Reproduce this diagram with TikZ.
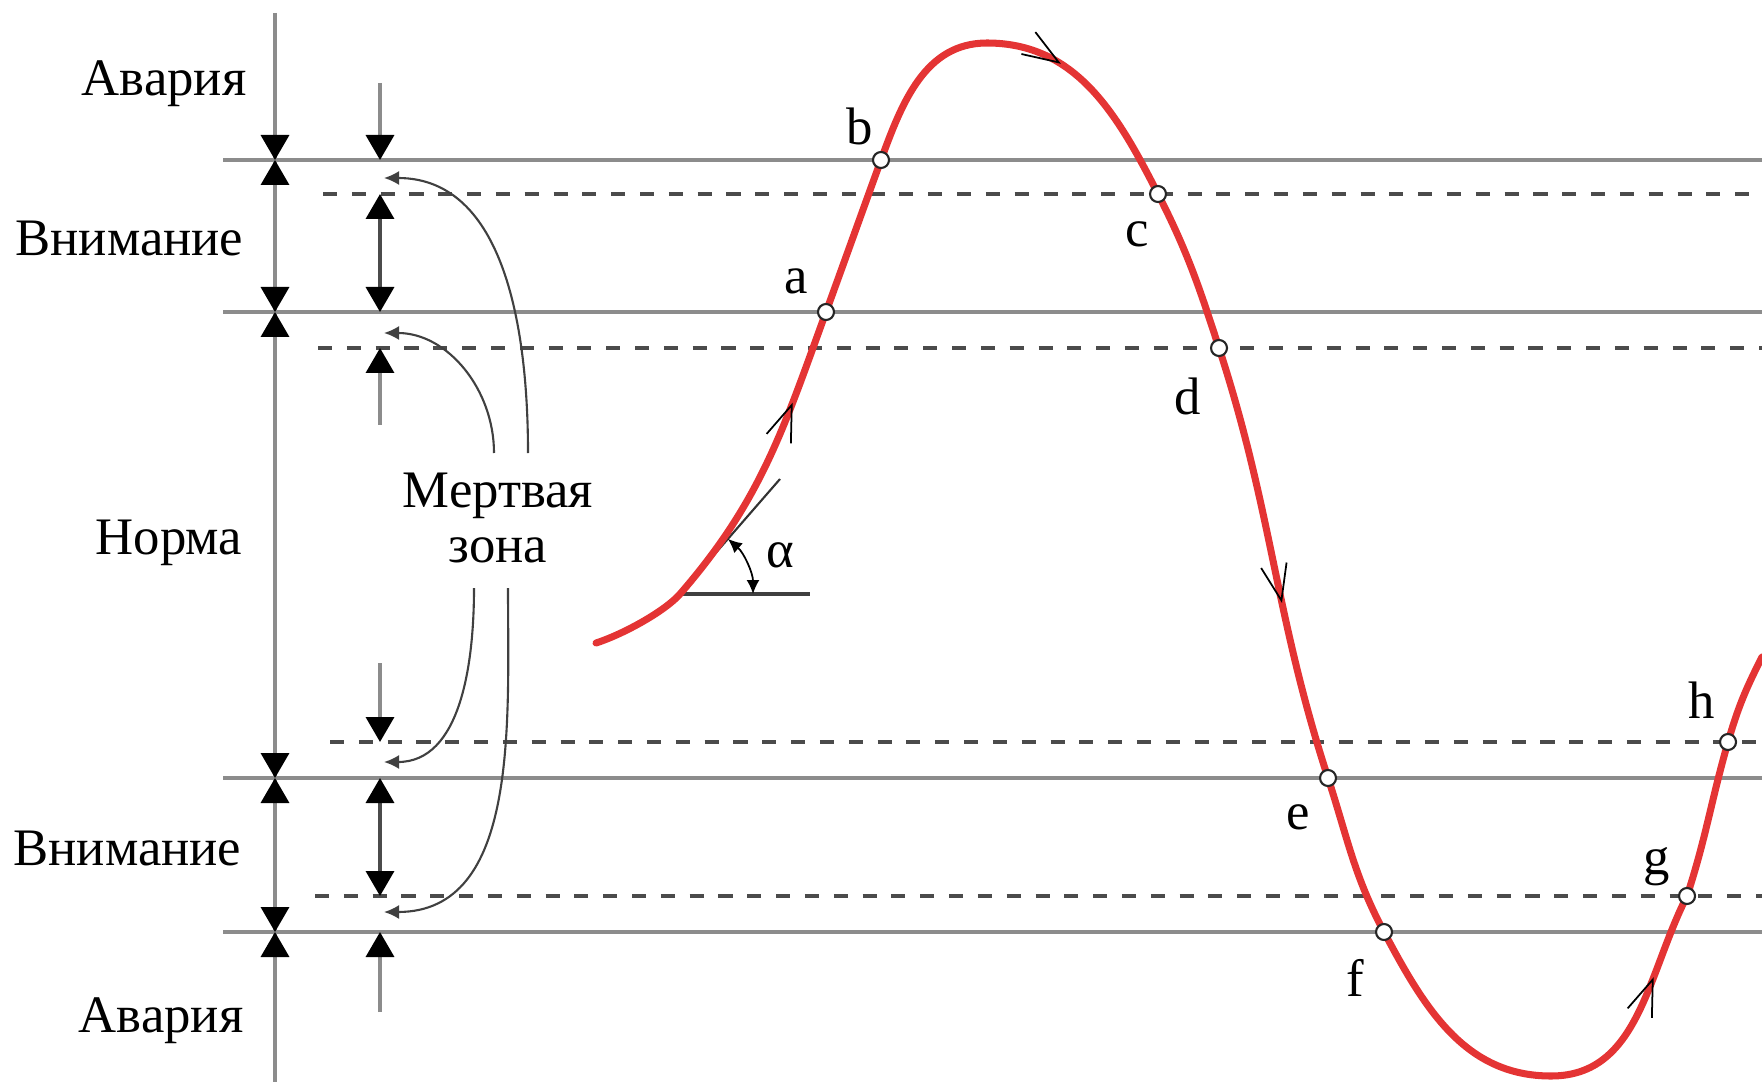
\documentclass[tikz,border=0pt]{standalone}
\usepackage{fontspec}
\setmainfont{Liberation Serif}
\usetikzlibrary{arrows.meta,calc,decorations.markings}
\definecolor{SignalRed}{RGB}{228,52,52}
\definecolor{LevelGray}{RGB}{140,140,140}
\definecolor{BandGray}{RGB}{75,75,75}

\begin{document}
\begin{tikzpicture}[x=1cm,y=1cm,>=Latex,font=\fontsize{15}{18}\selectfont,
  level/.style={LevelGray,line width=1pt},
  band/.style={BandGray,line width=0.9pt,dash pattern=on 4pt off 4.2pt},
  axis/.style={LevelGray,line width=1pt},
  dimtip/.style={-{Triangle[length=2.5mm,width=2.8mm,color=black]}},
  dimboth/.style={BandGray,line width=1pt,{Triangle[length=2.5mm,width=2.8mm,color=black]}-{Triangle[length=2.5mm,width=2.8mm,color=black]}},
  dzarrow/.style={black!75,line width=0.6pt,-{Latex[length=1.5mm,width=1.4mm]}},
  flow/.style={black,line width=0.5pt},
  signal/.style={SignalRed,line width=2pt,line cap=round,
    decoration={markings,
      mark=at position 0.129 with {\arrow[flow]{Straight Barb[length=3.6mm,width=2.6mm,line width=0.5pt,color=black]}},
      mark=at position 0.332 with {\arrow[flow]{Straight Barb[length=3.6mm,width=2.6mm,line width=0.5pt,color=black]}},
      mark=at position 0.570 with {\arrow[flow]{Straight Barb[length=3.6mm,width=2.6mm,line width=0.5pt,color=black]}},
      mark=at position 0.864 with {\arrow[flow]{Straight Barb[length=3.6mm,width=2.6mm,line width=0.5pt,color=black]}}}},
  pt/.style={circle,draw=black!85,fill=white,line width=0.6pt,inner sep=0pt,minimum size=1.6mm},
  zone/.style={anchor=base east,inner sep=0pt},
  ptlabel/.style={inner sep=0pt}]
  \useasboundingbox (0,0) rectangle (17.62,10.82);

  \foreach \lv in {9.22,7.70,3.04,1.50}
    \draw[level] (2.23,\lv)--(17.62,\lv);
  \draw[band] (3.23,8.88)--(17.62,8.88) (3.18,7.34)--(17.62,7.34)
    (3.30,3.40)--(17.62,3.40) (3.15,1.86)--(17.62,1.86);

  \draw[axis] (2.75,10.69)--(2.75,0);
  \foreach \lv in {9.22,7.70,3.04,1.50}{
    \draw[axis,dimtip] (2.75,\lv+0.36)--(2.75,\lv);
    \draw[axis,dimtip] (2.75,\lv-0.36)--(2.75,\lv);
  }
  \draw[axis,dimtip] (3.80,9.99)--(3.80,9.22);
  \draw[dimboth] (3.80,8.88)--(3.80,7.70);
  \draw[axis,dimtip] (3.80,6.57)--(3.80,7.34);
  \draw[axis,dimtip] (3.80,4.19)--(3.80,3.40);
  \draw[dimboth] (3.80,3.04)--(3.80,1.86);
  \draw[axis,dimtip] (3.80,0.70)--(3.80,1.50);

  \node[zone] (alarmT) at (2.47,9.86) {Авария};
  \node[zone] (warnT) at (2.44,8.26) {Внимание};
  \node[zone] (normal) at (2.43,5.28) {Норма};
  \node[zone] (warnB) at (2.42,2.17) {Внимание};
  \node[zone] (alarmB) at (2.44,0.50) {Авария};
  \node[anchor=base] (dzone1) at (4.98,5.75) {Мертвая};
  \node[anchor=base] (dzone2) at (4.98,5.20) {зона};

  \coordinate (dzA) at (5.28,6.29);
  \coordinate (dzB) at (4.94,6.29);
  \coordinate (dzC) at (4.74,4.94);
  \coordinate (dzD) at (5.08,4.94);
  \coordinate (endA) at (3.84,9.04);
  \coordinate (endB) at (3.84,7.49);
  \coordinate (endC) at (3.84,3.20);
  \coordinate (endD) at (3.84,1.70);
  \draw[dzarrow] (dzA) to[out=90,in=0] (endA);
  \draw[dzarrow] (dzB) to[out=90,in=0] (endB);
  \draw[dzarrow] (dzC) to[out=-90,in=0] (endC);
  \draw[dzarrow] (dzD) to[out=-90,in=0] (endD);

  \coordinate (start) at (5.96,4.39);
  \coordinate (tp) at (6.80,4.88);
  \coordinate (ca) at (8.26,7.70);
  \coordinate (cb) at (8.81,9.22);
  \coordinate (top) at (9.87,10.39);
  \coordinate (cc) at (11.58,8.88);
  \coordinate (cd) at (12.19,7.34);
  \coordinate (ce) at (13.28,3.04);
  \coordinate (cf) at (13.84,1.50);
  \coordinate (bot) at (15.51,0.06);
  \coordinate (cg) at (16.87,1.86);
  \coordinate (ch) at (17.28,3.40);
  \coordinate (exit) at (17.62,4.25);

  \draw[black!80,line width=0.6pt] (tp)--(7.80,6.03);
  \draw[black!75,line width=1.2pt] (tp)--(8.10,6.03|-tp);
  \draw[black,line width=0.5pt,{Latex[length=1.4mm,width=1.3mm]}-{Latex[length=1.4mm,width=1.3mm]}]
    ($(tp)+(0.73,0)$) arc[start angle=0,end angle=49,radius=0.73];
  \node (alpha) at (7.80,5.27) {α};

  \draw[signal,postaction={decorate}] (start) .. controls +(18:0.3) and +(229:0.22) .. (tp)
    to[out=49,in=250] (ca) to[out=70,in=250] (cb) to[out=70,in=180] (top)
    to[out=0,in=117] (cc) to[out=-63,in=108] (cd) to[out=-72,in=108] (ce)
    to[out=-72,in=118] (cf) to[out=-62,in=180] (bot) to[out=0,in=243] (cg)
    to[out=72,in=254] (ch) to[out=74,in=243] (exit);

  \node[pt] (pa) at (ca) {};
  \node[pt] (pb) at (cb) {};
  \node[pt] (pc) at (cc) {};
  \node[pt] (pd) at (cd) {};
  \node[pt] (pe) at (ce) {};
  \node[pt] (pf) at (cf) {};
  \node[pt] (pg) at (cg) {};
  \node[pt] (ph) at (ch) {};
  \node[ptlabel] (la) at (7.96,8.01) {a};
  \node[ptlabel] (lb) at (8.60,9.56) {b};
  \node[ptlabel] (lc) at (11.37,8.48) {c};
  \node[ptlabel] (ld) at (11.88,6.86) {d};
  \node[ptlabel] (le) at (12.98,2.65) {e};
  \node[ptlabel] (lf) at (13.55,1.04) {f};
  \node[ptlabel] (lg) at (16.57,2.15) {g};
  \node[ptlabel] (lh) at (17.02,3.82) {h};
\end{tikzpicture}
\end{document}
